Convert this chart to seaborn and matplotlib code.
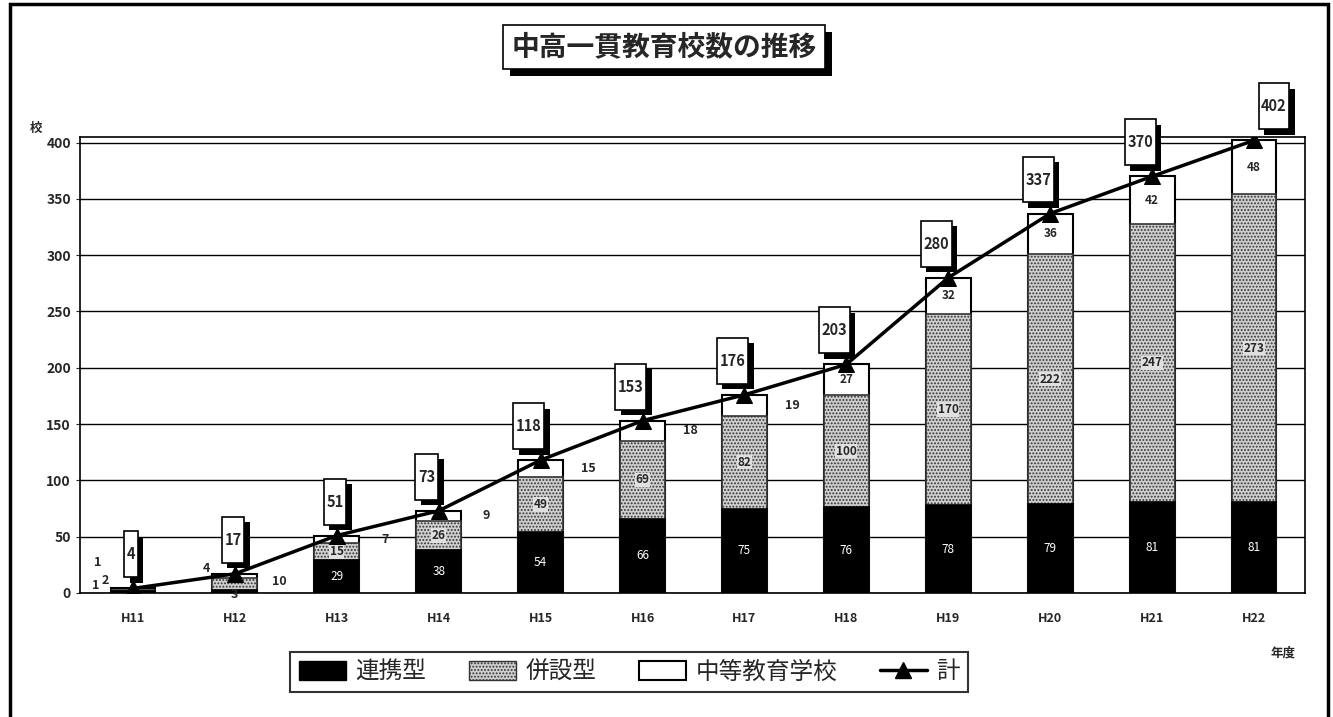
import numpy as np
import pandas as pd
import seaborn as sns
import matplotlib.pyplot as plt
import matplotlib.patheffects as pe
from matplotlib.patches import Patch, Rectangle
from matplotlib.lines import Line2D

# データ
years = ["H11", "H12", "H13", "H14", "H15", "H16", "H17", "H18", "H19", "H20", "H21", "H22"]
renkei = [2, 3, 29, 38, 54, 66, 75, 76, 78, 79, 81, 81]        # 連携型
heisetsu = [1, 10, 15, 26, 49, 69, 82, 100, 170, 222, 247, 273]  # 併設型
chuto = [1, 4, 7, 9, 15, 18, 19, 27, 32, 36, 42, 48]             # 中等教育学校
total = [4, 17, 51, 73, 118, 153, 176, 203, 280, 337, 370, 402]  # 計

df = pd.DataFrame({"年度": years, "連携型": renkei, "併設型": heisetsu, "中等教育学校": chuto, "計": total})
df["c1"] = df["連携型"]
df["c2"] = df["連携型"] + df["併設型"]
df["c3"] = df["c2"] + df["中等教育学校"]

sns.set_style("white")
plt.rcParams['font.family'] = ['Noto Sans CJK JP', 'DejaVu Sans']
plt.rcParams['hatch.linewidth'] = 0.9

fig = plt.figure(figsize=(13.33, 7.17), dpi=100)
ax = fig.add_axes([0.060, 0.173, 0.919, 0.636])

w = 0.44
sns.barplot(data=df, x="年度", y="c3", color="white", edgecolor="black", linewidth=1.5,
            width=w, saturation=1, ax=ax, zorder=2)
sns.barplot(data=df, x="年度", y="c2", color="#cfcfcf", edgecolor="#333333", linewidth=1.2,
            width=w, saturation=1, ax=ax, zorder=3)
for b in ax.containers[1]:
    b.set_hatch(".....")
sns.barplot(data=df, x="年度", y="c1", color="black", edgecolor="black", linewidth=1.2,
            width=w, saturation=1, ax=ax, zorder=4)

xs = np.arange(len(years))
sns.lineplot(x=xs, y=df["計"], color="black", lw=2.5, marker="^", markersize=11,
             markeredgecolor="black", ax=ax, zorder=6)

# セグメントのラベル
for i in range(len(years)):
    r, h, c = renkei[i], heisetsu[i], chuto[i]
    if i == 0:
        ax.text(i - 0.27, 11.5, str(r), ha="center", va="center", fontsize=9, fontweight="bold", zorder=7)
        ax.text(i - 0.37, 7, str(h), ha="center", va="center", fontsize=9, fontweight="bold", zorder=7)
        ax.text(i - 0.35, 27, str(c), ha="center", va="center", fontsize=9, fontweight="bold", zorder=7)
        continue
    if i == 1:
        ax.text(i, -1.5, str(r), ha="center", va="center", fontsize=9, fontweight="bold", zorder=7)
        ax.text(i + 0.44, 10, str(h), ha="center", va="center", fontsize=9, fontweight="bold", zorder=7)
        ax.text(i - 0.28, 22, str(c), ha="center", va="center", fontsize=9, fontweight="bold", zorder=7)
        continue
    ax.text(i, r / 2, str(r), ha="center", va="center", fontsize=8.5, color="white", zorder=7)
    ax.text(i, r + h / 2, str(h), ha="center", va="center", fontsize=8.5, fontweight="bold", zorder=7,
            bbox=dict(boxstyle="square,pad=0.05", fc="#e0e0e0", ec="none"))
    if c < 20:
        ax.text(i + 0.47, r + h + c / 2, str(c), ha="center", va="center", fontsize=9, fontweight="bold", zorder=7)
    else:
        ax.text(i, r + h + c / 2, str(c), ha="center", va="center", fontsize=8.5, fontweight="bold", zorder=7)

# 計のラベル（影付きの枠）
for i, t in enumerate(total):
    dx = 20 if i == len(total) - 1 else -12
    if i < 3:
        dx = -2
    an = ax.annotate("\n" + str(t) + "\n", (i, t), xytext=(dx * 0.72, 34 * 0.72), textcoords="offset points",
                     ha="center", va="center", fontsize=10.5, fontweight="bold", linespacing=0.72, zorder=8,
                     bbox=dict(boxstyle="square,pad=0.18", fc="white", ec="black", lw=1.2))
    an.get_bbox_patch().set_path_effects([pe.SimplePatchShadow(offset=(4, -4), shadow_rgbFace="black", alpha=1),
                                          pe.Normal()])

ax.set_xlim(-0.52, 11.5)
ax.set_ylim(0, 405)
ax.set_yticks(range(0, 401, 50))
ax.yaxis.grid(True, color="black", lw=1)
ax.set_axisbelow(True)
ax.set_xlabel("")
ax.set_ylabel("")
ax.tick_params(axis="y", labelsize=10, length=3, direction="out", left=True)
ax.tick_params(axis="x", labelsize=9, length=0, pad=14)
for lbl in ax.get_xticklabels() + ax.get_yticklabels():
    lbl.set_fontweight("bold")
for s in ax.spines.values():
    s.set_color("black")
    s.set_linewidth(1.2)

fig.text(36 / 1333, 1 - 128 / 717, "校", fontsize=9, fontweight="bold", ha="center", va="center")
fig.text(1283 / 1333, 1 - 653 / 717, "年度", fontsize=9, fontweight="bold", ha="center", va="center")

# タイトル
tt = fig.text(664 / 1333, 1 - 47 / 717, "中高一貫教育校数の推移", fontsize=20, fontweight="bold", style="italic",
              ha="center", va="center",
              bbox=dict(boxstyle="square,pad=0.3", fc="white", ec="black", lw=1.2))
tt.get_bbox_patch().set_path_effects([pe.SimplePatchShadow(offset=(5, -5), shadow_rgbFace="black", alpha=1),
                                      pe.Normal()])

# 凡例
handles = [Patch(fc="black", ec="black"),
           Patch(fc="#cfcfcf", ec="#333333", hatch="....."),
           Patch(fc="white", ec="black", lw=1.5),
           Line2D([0], [0], color="black", lw=2.5, marker="^", markersize=11)]
labels = ["連携型", "併設型", "中等教育学校", "計"]
leg = fig.legend(handles, labels, loc="center", bbox_to_anchor=(0.472, 1 - 672 / 717), ncol=4,
                 fontsize=17, frameon=True, fancybox=False, edgecolor="black", handlelength=2.0,
                 handleheight=0.9, columnspacing=1.8, handletextpad=0.4, borderpad=0.35)
leg.get_frame().set_linewidth(1.5)

# 外枠
fig.add_artist(Rectangle((10 / 1333, -0.05), 1318 / 1333, 1.045, transform=fig.transFigure,
                         fill=False, ec="black", lw=2.5))

fig.savefig("out.png", dpi=100)
